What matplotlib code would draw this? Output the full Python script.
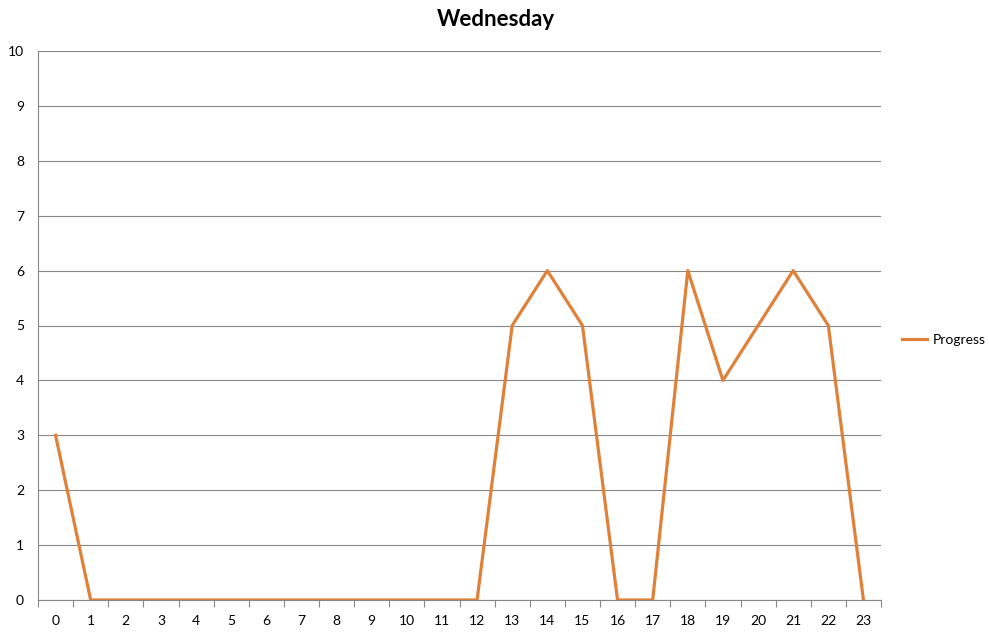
import matplotlib
matplotlib.use("Agg")
import matplotlib.pyplot as plt
import numpy as np

hours = list(range(24))
progress = [3, 0, 0, 0, 0, 0, 0, 0, 0, 0, 0, 0, 0, 5, 6, 5, 0, 0, 6, 4, 5, 6, 5, 0]
yticks = list(range(0, 11))

plt.rcParams['font.family'] = ['Lato', 'DejaVu Sans']

fig = plt.figure(figsize=(9.89, 6.4), dpi=100)
ax = fig.add_axes([38/989, 40/640, (881-38)/989, (600-51)/640])

ax.plot(hours, progress, color='#E0813A', linewidth=2.3, label='Progress', zorder=3)

ax.set_xlim(-0.5, 23.5)
ax.set_ylim(0, 10)
ax.set_yticks(yticks)
ax.set_yticklabels([str(t) for t in yticks], fontsize=10)
ax.set_xticks(hours)
ax.set_xticklabels([str(h) for h in hours], fontsize=10)
ax.set_xticks(np.arange(-0.5, 24, 1), minor=True)
ax.tick_params(axis='x', which='major', length=0, pad=11)
ax.tick_params(axis='x', which='minor', length=5, width=0.8, color='#878787', direction='out')
ax.tick_params(axis='y', length=0, pad=10)

ax.yaxis.grid(True, color='#878787', linewidth=0.8)
ax.set_axisbelow(True)
for s in ['top', 'right']:
    ax.spines[s].set_visible(False)
for s in ['left', 'bottom']:
    ax.spines[s].set_color('#878787')
    ax.spines[s].set_linewidth(0.8)

fig.text(496/989, 1 - 19/640, 'Wednesday', fontsize=16, fontweight='bold',
         ha='center', va='center')

leg = fig.legend(handles=ax.get_lines(), loc='center left',
                 bbox_to_anchor=(902/989, 1 - 340/640), frameon=False,
                 fontsize=10, handlelength=1.8, handletextpad=0.4,
                 borderpad=0, borderaxespad=0)

fig.savefig('out.png', dpi=100)
